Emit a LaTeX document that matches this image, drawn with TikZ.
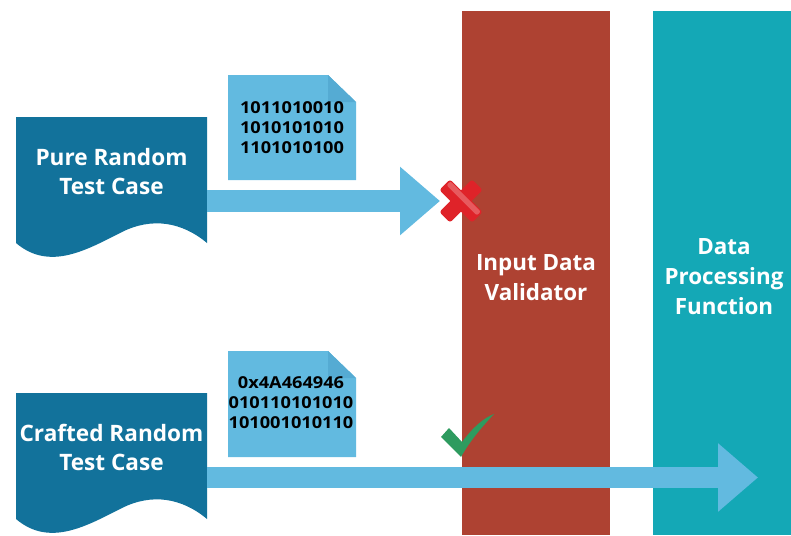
\documentclass[tikz,border=0pt]{standalone}
\usepackage{fontspec}
\setmainfont{Open Sans}
\newfontfamily\codefont[FakeStretch=1.11]{Open Sans}
\usetikzlibrary{arrows.meta}

\definecolor{docblue}{HTML}{12729B}
\definecolor{sky}{HTML}{62BAE0}
\definecolor{skyfold}{HTML}{55ABD3}
\definecolor{valred}{HTML}{AE4232}
\definecolor{procteal}{HTML}{14A8B6}
\definecolor{okgreen}{HTML}{2E9B5F}
\definecolor{badred}{HTML}{DF2329}

\tikzset{
  bar/.style={fill=#1, inner sep=0pt, minimum width=148pt, minimum height=524pt, anchor=north west},
  doctext/.style={text=white, font=\bfseries\fontsize{22.6}{29}\selectfont, align=center, inner sep=0pt},
  bartext/.style={text=white, font=\bfseries\fontsize{22.4}{30}\selectfont, align=center, inner sep=0pt},
  bits/.style={text=black, font=\codefont\bfseries\fontsize{16.4}{20}\selectfont, align=center, inner sep=0pt},
  flow/.style={draw=sky, line width=#1, -{Triangle[length=40pt,width=66pt]}},
}

\begin{document}
\begin{tikzpicture}[x=1pt,y=-1pt]
\useasboundingbox (0,0) rectangle (791,535);

% the two stages
\node[bar=valred] (validator) at (462,11) {};
\node[bar=procteal, minimum width=138pt] (processing) at (653,11) {};
\node[bartext] (validatorlabel) at (536,278) {Input Data\\Validator};
\node[bartext] (processinglabel) at (724,277) {Data\\Processing\\Function};

% test case documents
\fill[docblue] (16,117) -- (207,117) -- (207,243)
  .. controls (182,222) and (152,217) .. (122,232)
  .. controls (88,249) and (50,272) .. (16,243) -- cycle;
\node[doctext] (pure) at (111.5,171.5) {Pure Random\\Test Case};

\fill[docblue] (16,393) -- (207,393) -- (207,519)
  .. controls (182,498) and (152,493) .. (122,508)
  .. controls (88,525) and (50,548) .. (16,519) -- cycle;
\node[doctext] (crafted) at (111.5,447.5) {Crafted Random\\Test Case};

% data payload sheets
\fill[sky] (228,75) -- (328,75) -- (356,102) -- (356,180) -- (228,180) -- cycle;
\fill[skyfold] (328,75) -- (356,102) -- (328,102) -- cycle;
\node[bits] (bits1) at (292,128) {1011010010\\1010101010\\1101010100};

\fill[sky] (228,351) -- (328,351) -- (356,378) -- (356,457) -- (228,457) -- cycle;
\fill[skyfold] (328,351) -- (356,378) -- (328,378) -- cycle;
\node[bits] (bits2) at (291,403) {0x4A464946\\010110101010\\101001010110};

% flows from the test cases
\coordinate (stop1) at (440,201);
\coordinate (stop2) at (758,477.5);
\coordinate (start1) at (207,201);
\coordinate (start2) at (207,477.5);
\draw[flow=22pt] (start1) -- (stop1);
\draw[flow=21pt] (start2) -- (stop2);

% rejection mark
\begin{scope}[shift={(461,201)}]
  \fill[badred, rotate=45, rounded corners=2.5pt] (-23,-7.5) rectangle (23,7.5);
  \fill[badred, rotate=-45, rounded corners=2.5pt] (-23,-7.5) rectangle (23,7.5);
  \fill[white, opacity=0.25, rotate=-45, rounded corners=2pt] (-21.5,-6.5) rectangle (21.5,-1);
\end{scope}

% acceptance mark
\fill[okgreen] (441,437) -- (449,428) -- (462,442)
  .. controls (474,426) and (484,418) .. (494,414)
  .. controls (481,428) and (470,441) .. (461,457) -- cycle;
\end{tikzpicture}
\end{document}
